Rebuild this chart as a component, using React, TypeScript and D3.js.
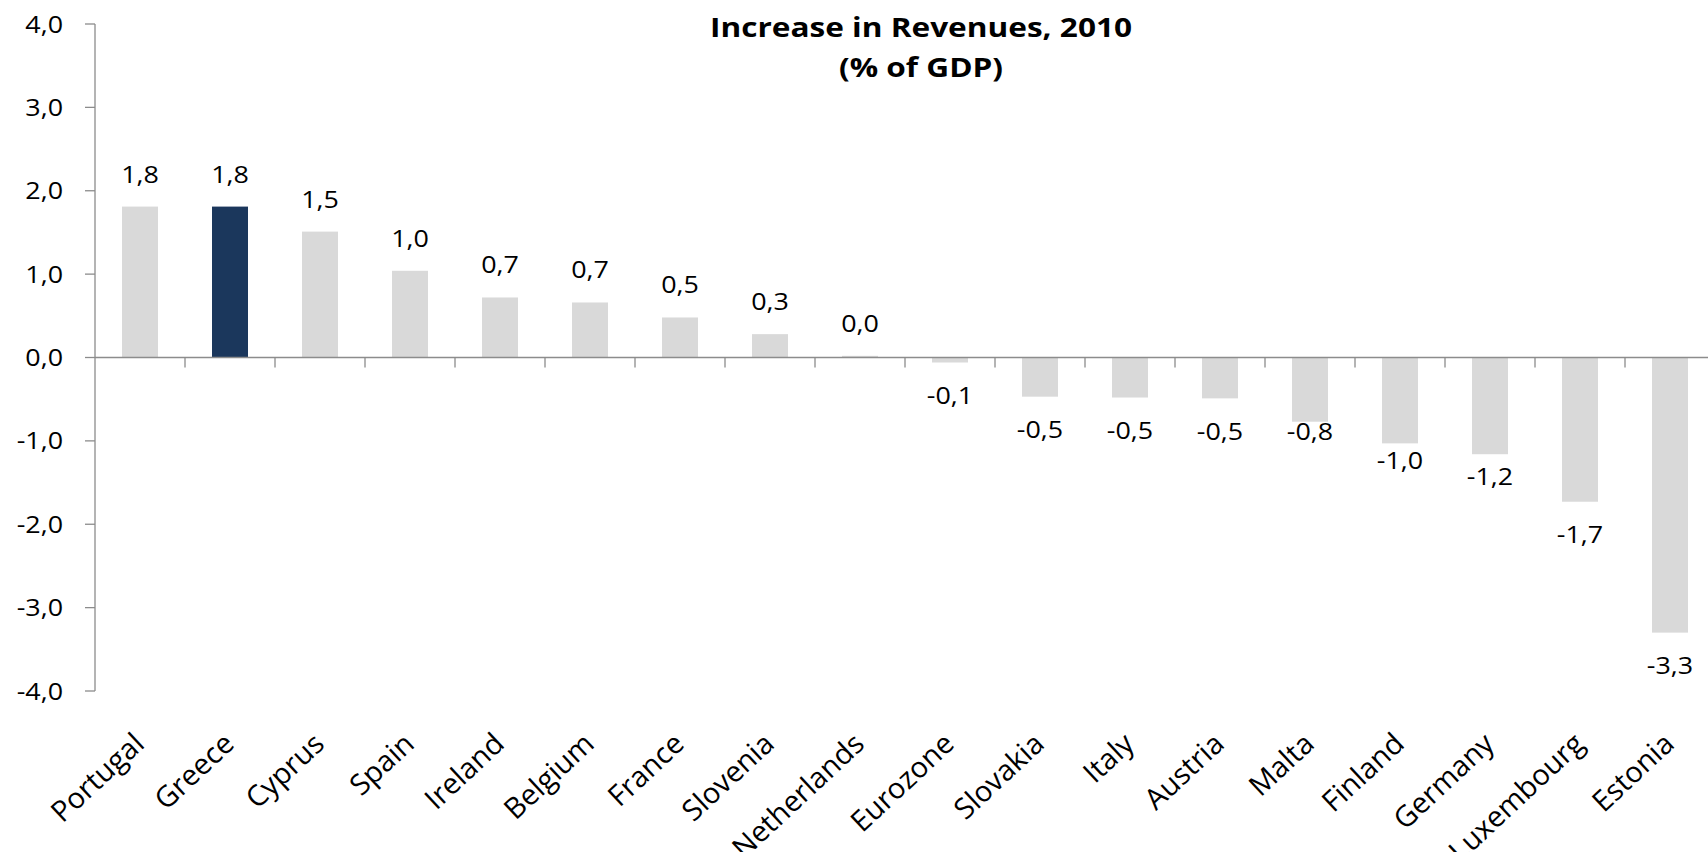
import React from "react";
import * as d3 from "d3";

const categories = ["Portugal","Greece","Cyprus","Spain","Ireland","Belgium","France","Slovenia","Netherlands","Eurozone","Slovakia","Italy","Austria","Malta","Finland","Germany","Luxembourg","Estonia"];
const values = [1.81,1.81,1.51,1.04,0.72,0.66,0.48,0.28,0.02,-0.06,-0.47,-0.48,-0.49,-0.77,-1.03,-1.16,-1.73,-3.30];
const highlight = ["Greece"];
const yTicks = [4,3,2,1,0,-1,-2,-3,-4];
const titleLines = ["Increase in Revenues, 2010","(% of GDP)"];

const W = 1708, H = 852;
const FONT = "'Open Sans', 'Liberation Sans', sans-serif";
const fmt = (v: number) => (Math.round(v * 10) / 10).toFixed(1).replace(".", ",").replace(/^-0,0$/, "0,0");
// gap (px) between a negative bar's end and its label, as placed in the source chart
const negLabelGap: Record<string, number> = { Malta: 1, Finland: 8, Germany: 13 };

export default function App() {
  const x0 = 95, step = 90;
  const x = d3.scaleBand<string>().domain(categories).range([x0, x0 + step * categories.length]).paddingInner(0.6).paddingOuter(0.3);
  const y = d3.scaleLinear().domain([-4, 4]).range([691, 24]);
  const axisColor = "#8c8c8c";
  const sx = 1.12;
  return (
    <svg width={W} height={H} style={{ position: "absolute", left: 0, top: 0, background: "#fff" }} fontFamily={FONT}>
      {titleLines.map((t, i) => (
        <text key={t} transform={`translate(921,${37 + i * 40}) scale(1.17,1)`} textAnchor="middle" fontWeight="bold" fontSize={27} fill="#000">{t}</text>
      ))}
      {categories.map((c, i) => {
        const v = values[i];
        return (
          <rect key={c} x={x(c)} width={x.bandwidth()} y={Math.min(y(v), y(0))} height={Math.abs(y(v) - y(0))}
            fill={highlight.includes(c) ? "#1b375c" : "#d9d9d9"} />
        );
      })}
      <line x1={x0} x2={x0} y1={y(4)} y2={y(-4)} stroke={axisColor} strokeWidth={1.3} />
      {yTicks.map((t) => (
        <g key={t}>
          <line x1={x0 - 10} x2={x0} y1={y(t)} y2={y(t)} stroke={axisColor} strokeWidth={1.3} />
          <text transform={`translate(63,${y(t) + 8.5}) scale(${sx},1)`} textAnchor="end" fontSize={24} fill="#000">{fmt(t)}</text>
        </g>
      ))}
      <line x1={x0} x2={W} y1={y(0)} y2={y(0)} stroke={axisColor} strokeWidth={1.3} />
      {categories.map((c, i) => (
        <line key={c} x1={x0 + step * (i + 1)} x2={x0 + step * (i + 1)} y1={y(0)} y2={y(0) + 10} stroke={axisColor} strokeWidth={1.3} />
      ))}
      {categories.map((c, i) => {
        const v = values[i];
        const cx = (x(c) as number) + x.bandwidth() / 2;
        const gap = negLabelGap[c] ?? 24;
        const ty = v >= 0 ? y(v) - 24 : y(v) + gap + 17.5;
        return (
          <text key={c} transform={`translate(${cx},${ty}) scale(${sx},1)`} textAnchor="middle" fontSize={24} fill="#000">{fmt(v)}</text>
        );
      })}
      {categories.map((c) => {
        const cx = (x(c) as number) + x.bandwidth() / 2;
        return (
          <text key={c} transform={`translate(${cx + 6},746) rotate(-43)`} textAnchor="end" fontSize={29} fill="#000">{c}</text>
        );
      })}
    </svg>
  );
}
